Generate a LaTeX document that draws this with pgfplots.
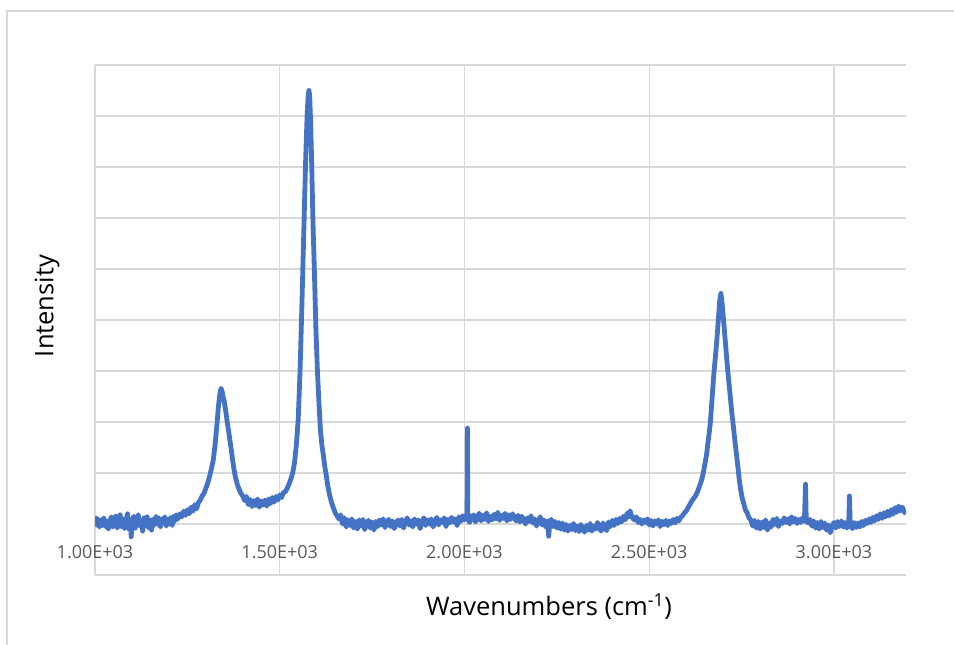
\documentclass[border=0pt]{standalone}
\usepackage{pgfplots}
\pgfplotsset{compat=1.18}
\usepackage{fontspec}
\setmainfont{Open Sans}
\definecolor{gridgray}{HTML}{D9D9D9}
\definecolor{labelgray}{HTML}{595959}
\definecolor{lineblue}{HTML}{4472C4}
\begin{document}
\begin{tikzpicture}[x=1pt,y=1pt]
\path[use as bounding box] (0,0) rectangle (954,645);
\draw[gridgray, line width=1.5pt] (7,-2) -- (7,634) -- (956,634);
\begin{axis}[
  at={(95pt,70pt)}, anchor=south west,
  scale only axis, width=811pt, height=510pt,
  xmin=1000, xmax=3195, ymin=-1, ymax=9,
  xtick={1000,1500,2000,2500,3000},
  xticklabels={1.00E+03,1.50E+03,2.00E+03,2.50E+03,3.00E+03},
  ytick={-1,0,1,2,3,4,5,6,7,8,9}, yticklabels={},
  grid=major, major grid style={draw=gridgray, line width=1.3pt},
  axis line style={draw=none}, major tick length=0pt,
  xticklabel style={anchor=center, yshift=23pt, font=\fontsize{18}{18}\selectfont, text=labelgray},
]
\addplot[color=lineblue, line width=4.8pt, line join=round, mark=none] coordinates {
(1000,0.15)(1004,-0.02)(1008,0.10)(1012,-0.06)(1016,0.08)(1020,-0.03)(1024,0.12)(1028,-0.05)(1032,0.06)(1036,-0.10)
(1040,0.04)(1044,0.14)(1048,-0.06)(1052,0.07)(1056,0.16)(1060,-0.08)(1064,0.03)(1068,0.18)(1072,-0.05)(1076,0.10)
(1080,-0.09)(1084,0.06)(1088,0.20)(1092,-0.10)(1096,0.05)(1098,-0.25)(1101,0.08)(1105,0.15)(1109,-0.08)(1113,0.10)
(1117,0.18)(1121,-0.04)(1125,0.06)(1129,-0.14)(1133,0.12)(1137,-0.03)(1141,0.14)(1145,-0.07)(1149,0.08)(1153,-0.12)
(1157,0.09)(1161,-0.02)(1165,0.15)(1169,0.00)(1173,0.12)(1177,-0.06)(1181,0.10)(1185,0.02)(1189,0.14)(1193,-0.04)
(1197,0.09)(1201,0.00)(1205,0.13)(1209,-0.03)(1213,0.15)(1217,0.06)(1220,0.18)(1225,0.10)(1230,0.20)(1235,0.14)
(1240,0.25)(1245,0.17)(1250,0.28)(1255,0.20)(1260,0.33)(1265,0.25)(1270,0.38)(1275,0.30)(1280,0.42)(1285,0.47)
(1290,0.55)(1295,0.60)(1300,0.70)(1305,0.80)(1310,0.93)(1315,1.08)(1320,1.25)(1325,1.55)(1330,1.95)(1334,2.30)
(1338,2.55)(1341,2.66)(1344,2.60)(1347,2.48)(1350,2.40)(1353,2.25)(1356,2.10)(1360,1.90)(1364,1.70)(1368,1.50)
(1372,1.28)(1376,1.08)(1380,0.92)(1385,0.78)(1390,0.68)(1395,0.60)(1400,0.55)(1405,0.46)(1410,0.54)(1415,0.38)
(1420,0.48)(1425,0.34)(1430,0.46)(1435,0.36)(1440,0.49)(1445,0.33)(1450,0.45)(1455,0.37)(1460,0.47)(1465,0.35)
(1470,0.49)(1475,0.40)(1480,0.52)(1485,0.43)(1490,0.54)(1495,0.47)(1500,0.57)(1505,0.52)(1510,0.62)(1515,0.63)
(1520,0.70)(1525,0.78)(1530,0.88)(1535,1.00)(1540,1.20)(1545,1.55)(1550,2.05)(1555,3.00)(1560,4.30)(1565,5.70)
(1570,7.10)(1574,8.00)(1577,8.40)(1579,8.50)(1581,8.40)(1584,7.80)(1587,6.90)(1590,5.90)(1594,4.90)(1598,3.80)
(1602,3.00)(1606,2.40)(1610,1.85)(1614,1.55)(1618,1.35)(1622,1.12)(1626,0.95)(1630,0.75)(1634,0.60)(1638,0.48)
(1642,0.38)(1646,0.30)(1650,0.22)(1655,0.16)
(1660,0.10)(1665,0.18)(1670,0.00)(1675,0.12)(1680,-0.06)(1685,0.08)(1690,-0.03)(1695,0.10)(1700,-0.08)(1705,0.05)
(1710,-0.10)(1715,0.08)(1720,-0.04)(1725,0.09)(1730,-0.11)(1735,0.02)(1740,0.07)(1745,-0.08)(1750,0.04)(1755,-0.12)
(1760,0.05)(1765,-0.05)(1770,0.08)(1775,-0.02)(1780,0.10)(1785,-0.07)(1790,0.03)(1795,0.09)(1800,-0.05)(1805,0.06)
(1810,-0.09)(1815,0.02)(1820,0.08)(1825,-0.04)(1830,0.09)(1835,-0.08)(1840,0.05)(1845,0.12)(1850,-0.02)(1855,0.06)
(1860,-0.06)(1865,0.10)(1870,0.00)(1875,0.08)(1880,-0.09)(1885,0.05)(1890,0.12)(1895,-0.03)(1900,0.08)(1905,0.00)
(1910,0.10)(1915,-0.06)(1920,0.05)(1925,0.13)(1930,-0.02)(1935,0.08)(1940,0.03)(1945,0.12)(1950,-0.05)(1955,0.09)
(1960,0.02)(1965,0.13)(1970,0.04)(1975,0.10)(1980,-0.03)(1985,0.14)(1990,0.05)(1995,0.16)(2000,0.08)(2004,0.18)
(2007,0.10)(2008,1.88)(2009,0.10)(2014,0.03)(2018,0.16)
(2020,0.08)(2025,0.18)(2030,0.04)(2035,0.14)(2040,0.21)(2045,0.06)(2050,0.17)(2055,0.09)(2060,0.22)(2065,0.05)
(2070,0.15)(2075,0.08)(2080,0.19)(2085,0.10)(2090,0.23)(2095,0.07)(2100,0.17)(2105,0.11)(2110,0.21)(2115,0.06)
(2120,0.18)(2125,0.09)(2130,0.20)(2135,0.11)(2140,0.06)(2145,0.17)(2150,0.04)(2155,0.15)(2160,0.08)(2165,0.00)
(2170,0.12)(2175,0.05)(2180,0.16)(2185,0.02)(2190,0.10)(2195,-0.04)(2200,0.07)(2205,0.14)(2210,-0.02)(2215,0.08)
(2220,-0.06)(2225,0.06)(2228,-0.24)(2231,0.03)(2235,0.09)(2240,-0.05)(2245,0.05)(2250,-0.08)(2255,0.03)(2260,-0.10)
(2265,0.02)(2270,-0.12)(2275,-0.01)(2280,-0.14)(2285,-0.03)(2290,-0.11)(2295,0.01)(2300,-0.13)(2305,-0.04)(2310,-0.15)
(2315,-0.01)(2320,-0.09)(2325,-0.16)(2330,-0.03)(2335,-0.12)(2340,0.01)(2345,-0.14)(2350,-0.04)(2355,-0.10)(2360,0.03)
(2365,-0.08)(2370,-0.14)(2375,0.02)(2380,-0.07)(2385,-0.13)(2390,0.04)(2395,-0.05)(2400,0.07)(2405,-0.03)(2410,0.09)
(2415,0.01)(2420,0.11)(2425,0.04)(2430,0.15)(2435,0.08)(2440,0.21)(2445,0.14)(2448,0.26)(2452,0.16)(2456,0.11)
(2460,0.08)(2465,0.14)(2470,0.03)(2475,0.09)(2480,0.00)(2485,0.08)(2490,0.03)(2495,0.10)(2500,-0.02)(2505,0.07)
(2510,-0.04)(2515,0.06)(2520,0.00)(2525,0.08)(2530,-0.05)(2535,0.05)(2540,-0.01)(2545,0.07)(2550,-0.03)(2555,0.06)
(2560,0.01)(2565,0.09)(2570,0.02)(2575,0.11)(2580,0.06)(2585,0.13)(2590,0.16)(2595,0.22)(2600,0.25)(2605,0.32)
(2610,0.38)(2615,0.45)(2620,0.50)(2625,0.55)(2630,0.62)(2635,0.72)(2640,0.82)(2645,0.95)(2650,1.15)(2655,1.35)
(2660,1.65)(2665,1.95)(2670,2.45)(2675,2.95)(2680,3.35)(2684,3.70)(2688,4.10)(2691,4.40)(2694,4.52)(2697,4.35)
(2700,4.10)(2704,3.75)(2708,3.40)(2712,3.05)(2716,2.75)(2720,2.45)(2724,2.15)(2728,1.90)(2732,1.62)(2736,1.38)
(2740,1.12)(2744,0.85)(2748,0.65)(2752,0.50)(2756,0.40)(2760,0.28)(2765,0.22)(2770,0.12)(2775,0.08)(2780,-0.04)
(2785,0.07)(2790,-0.08)(2795,0.05)(2800,-0.10)(2805,0.04)(2810,-0.07)(2815,0.08)(2820,-0.12)(2825,0.02)(2830,-0.06)
(2835,0.09)(2840,-0.01)(2845,0.11)(2850,-0.05)(2855,0.06)(2860,0.01)(2865,0.12)(2870,0.03)(2875,0.10)(2880,0.00)
(2885,0.14)(2890,0.04)(2895,0.11)(2900,0.01)(2905,0.09)(2910,0.03)(2915,0.12)(2920,0.05)(2923,0.78)(2925,0.08)
(2930,0.02)(2935,0.09)(2940,-0.04)(2945,0.06)(2950,-0.08)(2955,0.03)(2960,-0.10)(2965,0.05)(2970,-0.07)(2975,0.02)
(2980,-0.12)(2985,-0.02)(2990,-0.17)(2995,-0.04)(3000,0.03)(3005,-0.08)(3010,0.05)(3015,-0.05)(3020,0.06)(3025,-0.06)
(3030,0.03)(3035,-0.08)(3040,0.03)(3042,0.55)(3044,0.00)(3050,-0.09)(3055,0.03)(3060,-0.07)(3065,0.02)(3070,-0.06)
(3075,0.05)(3080,-0.03)(3085,0.07)(3090,0.01)(3095,0.10)(3100,0.03)(3105,0.13)(3110,0.06)(3115,0.16)(3120,0.09)
(3125,0.20)(3130,0.11)(3135,0.22)(3140,0.14)(3145,0.25)(3150,0.16)(3155,0.28)(3160,0.19)(3165,0.32)(3170,0.23)
(3175,0.35)(3180,0.26)(3185,0.33)(3190,0.24)(3195,0.20)
};
\end{axis}
\node[text=black, font=\fontsize{25.5}{25.5}\selectfont] at (549,38) {Wavenumbers (cm\textsuperscript{-1})};
\node[text=black, font=\fontsize{25.5}{25.5}\selectfont, rotate=90] at (47,339) {Intensity};
\end{tikzpicture}
\end{document}
